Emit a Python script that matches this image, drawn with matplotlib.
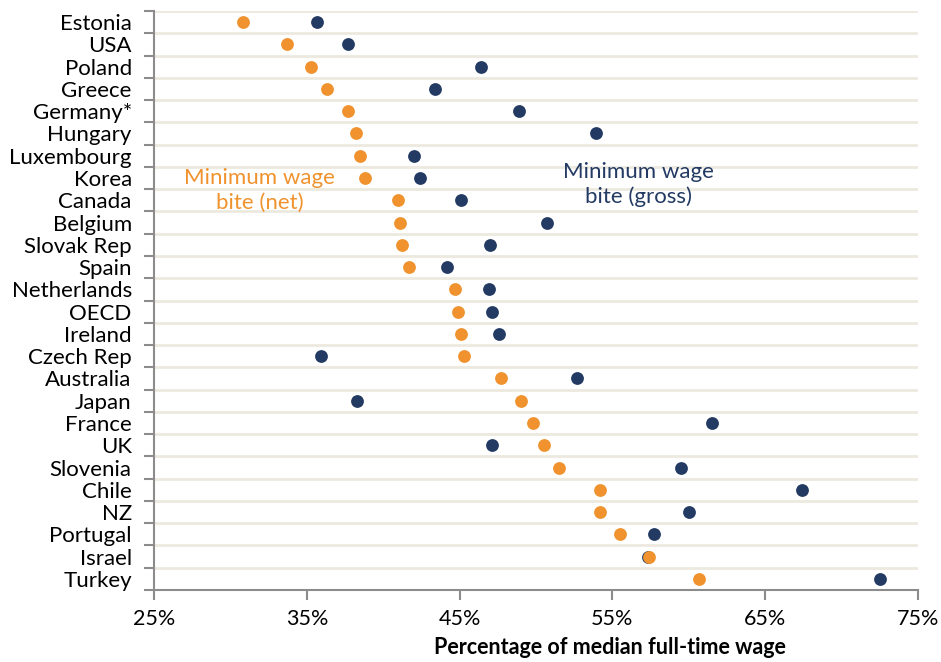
import numpy as np
import matplotlib.pyplot as plt

plt.rcParams['font.family'] = ['Lato', 'DejaVu Sans']

countries = ['Estonia', 'USA', 'Poland', 'Greece', 'Germany*', 'Hungary',
             'Luxembourg', 'Korea', 'Canada', 'Belgium', 'Slovak Rep', 'Spain',
             'Netherlands', 'OECD', 'Ireland', 'Czech Rep', 'Australia', 'Japan',
             'France', 'UK', 'Slovenia', 'Chile', 'NZ', 'Portugal', 'Israel',
             'Turkey']
bite_net = [30.8, 33.7, 35.3, 36.3, 37.7, 38.2, 38.5, 38.8, 41.0, 41.1, 41.2,
            41.7, 44.7, 44.9, 45.1, 45.3, 47.7, 49.0, 49.8, 50.5, 51.5, 54.2,
            54.2, 55.5, 57.4, 60.7]
bite_gross = [35.7, 37.7, 46.4, 43.4, 48.9, 53.9, 42.0, 42.4, 45.1, 50.7, 47.0,
              44.2, 46.9, 47.1, 47.6, 35.9, 52.7, 38.3, 61.5, 47.1, 59.5, 67.4,
              60.0, 57.7, 57.35, 72.5]
x_ticks = [25, 35, 45, 55, 65, 75]

orange = '#F0932F'
navy = '#233A63'
grey = '#8C8C8C'

fig = plt.figure(figsize=(9.41, 6.62), dpi=100)
ax = fig.add_axes([154 / 941, 1 - 590 / 662, (918 - 154) / 941, (590 - 11) / 662])

n = len(countries)
pos = np.arange(n)

# row separators
for b in np.arange(n) - 0.5:
    ax.axhline(b, color='#EDE9DF', lw=2, zorder=0)

ax.scatter(bite_gross, pos, s=85, color=navy, zorder=3, linewidths=0)
ax.scatter(bite_net, pos, s=85, color=orange, zorder=4, linewidths=0)

ax.set_xlim(25, 75)
ax.set_ylim(n - 0.5, -0.5)
ax.set_xticks(x_ticks)
ax.set_xticklabels([f'{t}%' for t in x_ticks], fontsize=15.5)
ax.set_yticks(pos)
ax.set_yticklabels(countries, fontsize=16)
ax.set_yticks(np.arange(n + 1) - 0.5, minor=True)
ax.tick_params(axis='y', which='major', length=0, pad=16)
ax.tick_params(axis='y', which='minor', length=7, color=grey, width=1.5)
ax.tick_params(axis='x', length=7, color=grey, width=1.5, pad=7)

for side in ['top', 'right']:
    ax.spines[side].set_visible(False)
for side in ['left', 'bottom']:
    ax.spines[side].set_color(grey)
    ax.spines[side].set_linewidth(1.5)

ax.text(31.9, 7.56, 'Minimum wage\nbite (net)', color=orange, fontsize=16,
        ha='center', va='center', linespacing=1.3)
ax.text(56.7, 7.29, 'Minimum wage\nbite (gross)', color=navy, fontsize=16,
        ha='center', va='center', linespacing=1.3)

fig.text(610 / 941, 1 - 648 / 662, 'Percentage of median full-time wage',
         fontsize=15.5, fontweight='bold', ha='center', va='center')

fig.savefig('out.png', dpi=100)
